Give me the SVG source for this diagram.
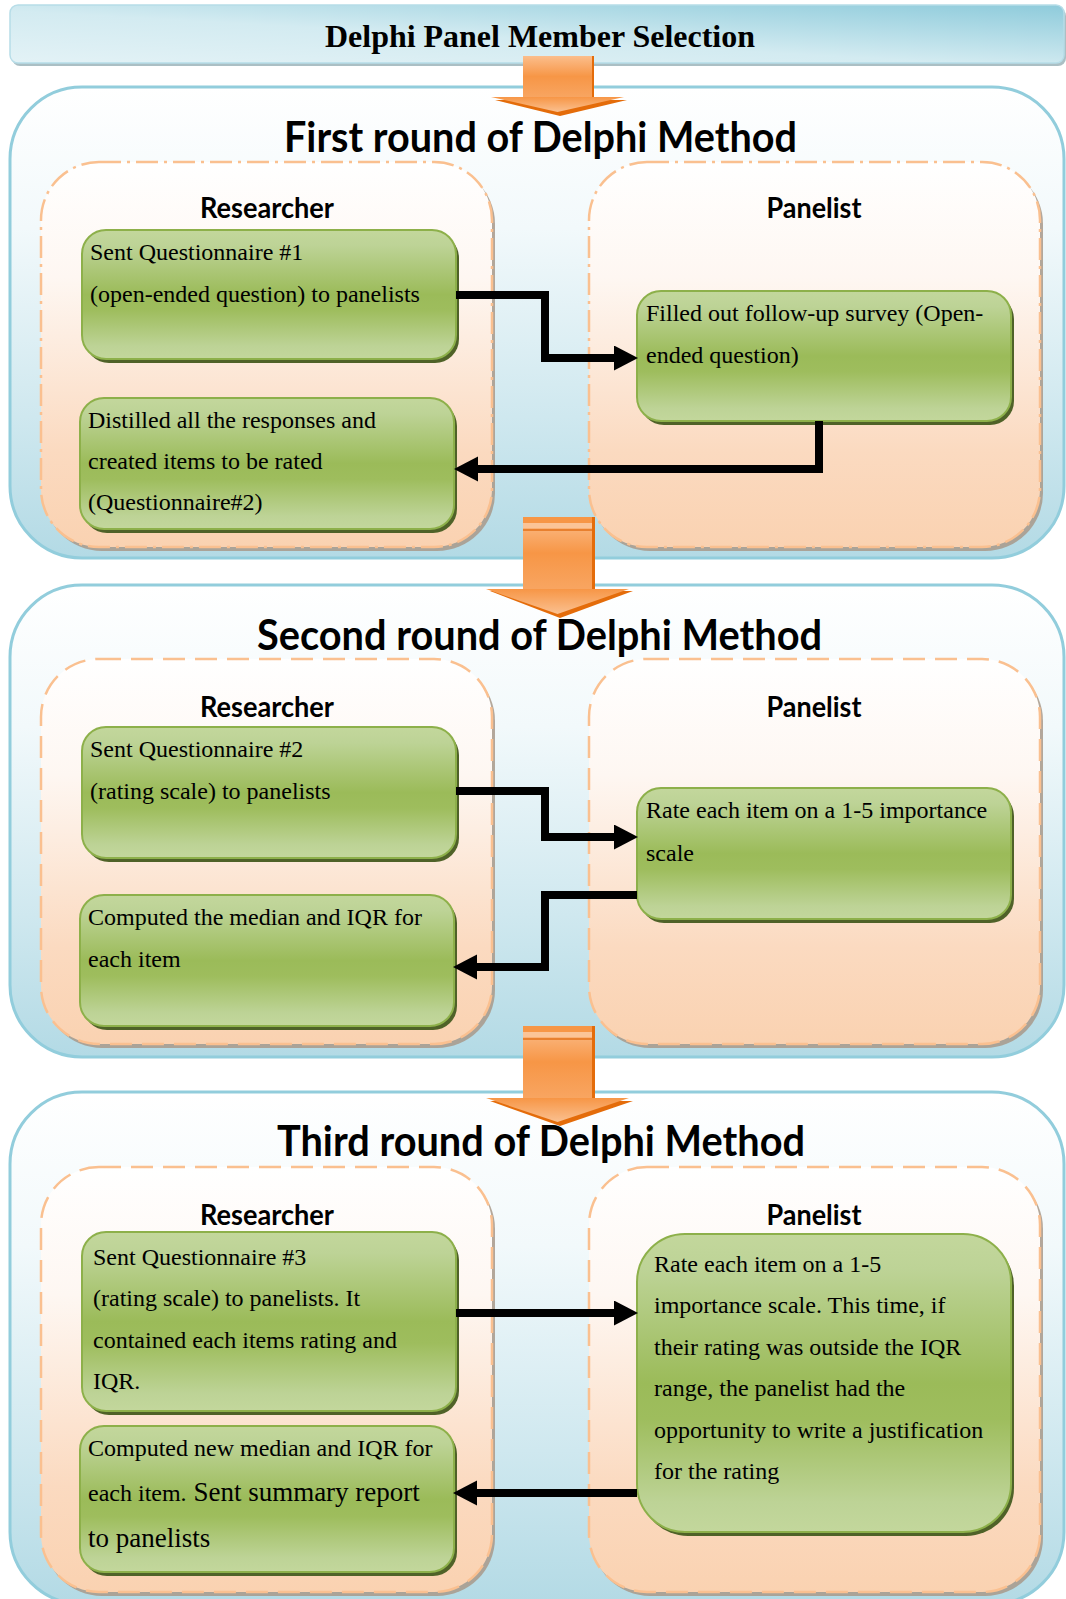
<svg xmlns="http://www.w3.org/2000/svg" width="1066" height="1599" viewBox="0 0 1066 1599">
  <defs>
    <linearGradient id="gBar" x1="0" y1="1" x2="1" y2="0">
      <stop offset="0" stop-color="#E3F2F6"/>
      <stop offset="0.45" stop-color="#D3EBF1"/>
      <stop offset="1" stop-color="#8ECBDB"/>
    </linearGradient>
    <linearGradient id="gOuter" x1="0" y1="0" x2="0" y2="1">
      <stop offset="0" stop-color="#FFFFFF"/>
      <stop offset="0.3" stop-color="#F2F9FB"/>
      <stop offset="0.7" stop-color="#CFE8EF"/>
      <stop offset="1" stop-color="#B3DAE5"/>
    </linearGradient>
    <linearGradient id="gLane" x1="0" y1="0" x2="0" y2="1">
      <stop offset="0" stop-color="#FFFFFF"/>
      <stop offset="0.3" stop-color="#FEF7F2"/>
      <stop offset="0.75" stop-color="#FBDAC0"/>
      <stop offset="1" stop-color="#FAD2B1"/>
    </linearGradient>
    <linearGradient id="gBox" x1="0" y1="0" x2="0" y2="1">
      <stop offset="0" stop-color="#C3D79C"/>
      <stop offset="0.12" stop-color="#BDD396"/>
      <stop offset="0.5" stop-color="#9BBB59"/>
      <stop offset="0.62" stop-color="#9EBD5D"/>
      <stop offset="0.9" stop-color="#BDD396"/>
      <stop offset="1" stop-color="#C3D79C"/>
    </linearGradient>
    <linearGradient id="gShaft" x1="0" y1="0" x2="0" y2="1">
      <stop offset="0" stop-color="#FBBE8C"/>
      <stop offset="0.5" stop-color="#F79646"/>
      <stop offset="1" stop-color="#F8A561"/>
    </linearGradient>
    <linearGradient id="gHead" x1="0" y1="0" x2="0" y2="1">
      <stop offset="0" stop-color="#F79646"/>
      <stop offset="1" stop-color="#FAC090"/>
    </linearGradient>
    <marker id="ah" markerUnits="userSpaceOnUse" markerWidth="24" markerHeight="26" refX="0" refY="12.5" orient="auto">
      <path d="M0,0 L24,12.5 L0,25 Z" fill="#000"/>
    </marker>
    <style>
      .outer { fill: url(#gOuter); stroke: #92CDDC; stroke-width: 3; }
      .laneShadow { fill: #A8998A; opacity: 0.85; }
      .lane { fill: url(#gLane); stroke: #FAC090; stroke-width: 2.5; }
      .dashdot { stroke-dasharray: 22 6 3 6; }
      .dash { stroke-dasharray: 22 10; }
      .boxShadow { fill: #4F6228; }
      .box { fill: url(#gBox); stroke: #8DB04A; stroke-width: 2; }
      .t { font-family: "Liberation Serif", "Times New Roman", serif; font-size: 24px; fill: #000; }
      .big { font-size: 27px; }
      .h { font-family: Lato, "Open Sans", sans-serif; font-weight: 700; font-size: 42px; fill: #000; text-anchor: middle; }
      .lbl { font-family: Lato, "Open Sans", sans-serif; font-weight: 700; font-size: 28px; fill: #000; text-anchor: middle; }
      .conn { fill: none; stroke: #000; stroke-width: 8; stroke-linejoin: miter; marker-end: url(#ah); }
      .shaft { fill: url(#gShaft); }
      .head { fill: url(#gHead); }
      .fshadow { fill: #E46C0A; }
    </style>
  </defs>

  <rect width="1066" height="1599" fill="#FFFFFF"/>

  <!-- header bar -->
  <g id="header">
    <rect x="12" y="8" width="1054" height="58" rx="8" fill="#8FA9B0" opacity="0.75"/>
    <rect x="10" y="5" width="1054" height="58" rx="8" fill="url(#gBar)" stroke="#B7DDE8" stroke-width="1.5"/>
    <text x="540" y="47" font-family="'Liberation Serif', 'Times New Roman', serif" font-weight="700" font-size="32" text-anchor="middle" textLength="430" lengthAdjust="spacingAndGlyphs">Delphi Panel Member Selection</text>
  </g>

  <!-- round containers -->
  <g id="round1">
    <rect class="outer" x="10" y="87" width="1054" height="471" rx="72"/>
    <text class="h" x="540.5" y="152" textLength="513" lengthAdjust="spacingAndGlyphs">First round of Delphi Method</text>
    <g id="r1-researcher">
      <rect class="laneShadow" x="44" y="166" width="451" height="385" rx="58"/>
      <rect class="lane dashdot" x="41" y="162" width="451" height="385" rx="58"/>
      <text class="lbl" x="267" y="218" textLength="134" lengthAdjust="spacingAndGlyphs">Researcher</text>
    </g>
    <g id="r1-panelist">
      <rect class="laneShadow" x="592" y="166" width="451" height="385" rx="58"/>
      <rect class="lane dashdot" x="589" y="162" width="451" height="385" rx="58"/>
      <text class="lbl" x="814" y="218" textLength="95" lengthAdjust="spacingAndGlyphs">Panelist</text>
    </g>
  </g>

  <g id="round2">
    <rect class="outer" x="10" y="585" width="1054" height="472" rx="72"/>
    <text class="h" x="539.5" y="650" textLength="565" lengthAdjust="spacingAndGlyphs">Second round of Delphi Method</text>
    <g id="r2-researcher">
      <rect class="laneShadow" x="44" y="663" width="451" height="385" rx="58"/>
      <rect class="lane dash" x="41" y="659" width="451" height="385" rx="58"/>
      <text class="lbl" x="267" y="717" textLength="134" lengthAdjust="spacingAndGlyphs">Researcher</text>
    </g>
    <g id="r2-panelist">
      <rect class="laneShadow" x="592" y="663" width="451" height="385" rx="58"/>
      <rect class="lane dash" x="589" y="659" width="451" height="385" rx="58"/>
      <text class="lbl" x="814" y="717" textLength="95" lengthAdjust="spacingAndGlyphs">Panelist</text>
    </g>
  </g>

  <g id="round3">
    <rect class="outer" x="10" y="1092" width="1054" height="512" rx="72"/>
    <text class="h" x="541" y="1156" textLength="528" lengthAdjust="spacingAndGlyphs">Third round of Delphi Method</text>
    <g id="r3-researcher">
      <rect class="laneShadow" x="44" y="1171" width="451" height="425" rx="58"/>
      <rect class="lane dash" x="41" y="1167" width="451" height="425" rx="58"/>
      <text class="lbl" x="267" y="1225" textLength="134" lengthAdjust="spacingAndGlyphs">Researcher</text>
    </g>
    <g id="r3-panelist">
      <rect class="laneShadow" x="592" y="1171" width="451" height="425" rx="58"/>
      <rect class="lane dash" x="589" y="1167" width="451" height="425" rx="58"/>
      <text class="lbl" x="814" y="1225" textLength="95" lengthAdjust="spacingAndGlyphs">Panelist</text>
    </g>
  </g>

  <!-- orange block arrows between stages -->
  <g id="flow-arrow-1">
    <path class="fshadow" d="M495,100 H627 L560,116 Z"/>
    <path class="fshadow" d="M592,56 h2 v41 h-2 Z"/>
    <path class="shaft" d="M523,56 H592 V97 H523 Z"/>
    <path class="head" d="M491,97 H624 L557.5,112 Z"/>
  </g>
  <g id="flow-arrow-2">
    <path class="fshadow" d="M490,591 H633 L560,618 Z"/>
    <path class="fshadow" d="M592,517 h3 v72 h-3 Z"/>
    <path class="shaft" d="M523,517 H592 V589 H523 Z"/>
    <rect x="523" y="517" width="69" height="6" fill="#F79646"/>
    <rect x="523" y="523" width="69" height="5" fill="#FBC497"/>
    <rect x="523" y="529" width="69" height="2" fill="#E8802F"/>
    <path class="head" d="M486,589 H629 L557.5,614 Z"/>
  </g>
  <g id="flow-arrow-3">
    <path class="fshadow" d="M490,1101 H633 L560,1126 Z"/>
    <path class="fshadow" d="M592,1026 h3 v72 h-3 Z"/>
    <path class="shaft" d="M523,1026 H592 V1098 H523 Z"/>
    <rect x="523" y="1026" width="69" height="6" fill="#F79646"/>
    <rect x="523" y="1032" width="69" height="5" fill="#FBC497"/>
    <rect x="523" y="1038" width="69" height="2" fill="#E8802F"/>
    <path class="head" d="M486,1098 H629 L557.5,1122 Z"/>
  </g>

  <!-- process steps -->
  <g id="step-r1-send">
    <rect class="boxShadow" x="85" y="234" width="374" height="129" rx="24"/>
    <rect class="box" x="82" y="230" width="374" height="129" rx="24"/>
    <text class="t" x="90" y="260">Sent Questionnaire #1</text>
    <text class="t" x="90" y="302">(open-ended question) to panelists</text>
  </g>
  <g id="step-r1-distill">
    <rect class="boxShadow" x="83" y="402" width="374" height="131" rx="24"/>
    <rect class="box" x="80" y="398" width="374" height="131" rx="24"/>
    <text class="t" x="88" y="428">Distilled all the responses and</text>
    <text class="t" x="88" y="469">created items to be rated</text>
    <text class="t" x="88" y="510">(Questionnaire#2)</text>
  </g>
  <g id="step-r1-fill">
    <rect class="boxShadow" x="640" y="295" width="374" height="130" rx="24"/>
    <rect class="box" x="637" y="291" width="374" height="130" rx="24"/>
    <text class="t" x="646" y="321">Filled out follow-up survey (Open-</text>
    <text class="t" x="646" y="363">ended question)</text>
  </g>

  <g id="step-r2-send">
    <rect class="boxShadow" x="85" y="731" width="374" height="131" rx="24"/>
    <rect class="box" x="82" y="727" width="374" height="131" rx="24"/>
    <text class="t" x="90" y="757">Sent Questionnaire #2</text>
    <text class="t" x="90" y="799">(rating scale) to panelists</text>
  </g>
  <g id="step-r2-compute">
    <rect class="boxShadow" x="83" y="899" width="374" height="131" rx="24"/>
    <rect class="box" x="80" y="895" width="374" height="131" rx="24"/>
    <text class="t" x="88" y="925">Computed the median and IQR for</text>
    <text class="t" x="88" y="967">each item</text>
  </g>
  <g id="step-r2-rate">
    <rect class="boxShadow" x="640" y="792" width="374" height="131" rx="24"/>
    <rect class="box" x="637" y="788" width="374" height="131" rx="24"/>
    <text class="t" x="646" y="818">Rate each item on a 1-5 importance</text>
    <text class="t" x="646" y="861">scale</text>
  </g>

  <g id="step-r3-send">
    <rect class="boxShadow" x="85" y="1236" width="374" height="179" rx="24"/>
    <rect class="box" x="82" y="1232" width="374" height="179" rx="24"/>
    <text class="t" x="93" y="1265">Sent Questionnaire #3</text>
    <text class="t" x="93" y="1306">(rating scale) to panelists. It</text>
    <text class="t" x="93" y="1348">contained each items rating and</text>
    <text class="t" x="93" y="1389">IQR.</text>
  </g>
  <g id="step-r3-compute">
    <rect class="boxShadow" x="83" y="1430" width="374" height="146" rx="24"/>
    <rect class="box" x="80" y="1426" width="374" height="146" rx="24"/>
    <text class="t" x="88" y="1456">Computed new median and IQR for</text>
    <text class="t" x="88" y="1501">each item.<tspan class="big"> Sent summary report</tspan></text>
    <text class="t big" x="88" y="1547">to panelists</text>
  </g>
  <g id="step-r3-rate">
    <rect class="boxShadow" x="640" y="1238" width="374" height="298" rx="48"/>
    <rect class="box" x="637" y="1234" width="374" height="298" rx="48"/>
    <text class="t" x="654" y="1272">Rate each item on a 1-5</text>
    <text class="t" x="654" y="1313">importance scale. This time, if</text>
    <text class="t" x="654" y="1355">their rating was outside the IQR</text>
    <text class="t" x="654" y="1396">range, the panelist had the</text>
    <text class="t" x="654" y="1438">opportunity to write a justification</text>
    <text class="t" x="654" y="1479">for the rating</text>
  </g>

  <!-- connectors -->
  <g id="connectors">
    <path class="conn" d="M456,295 H545 V358 H614"/>
    <path class="conn" d="M819,421 V469 H478"/>
    <path class="conn" d="M456,791 H545 V837 H614"/>
    <path class="conn" d="M637,895 H545 V967 H477"/>
    <path class="conn" d="M456,1313 H614"/>
    <path class="conn" d="M637,1493 H477"/>
  </g>
</svg>
